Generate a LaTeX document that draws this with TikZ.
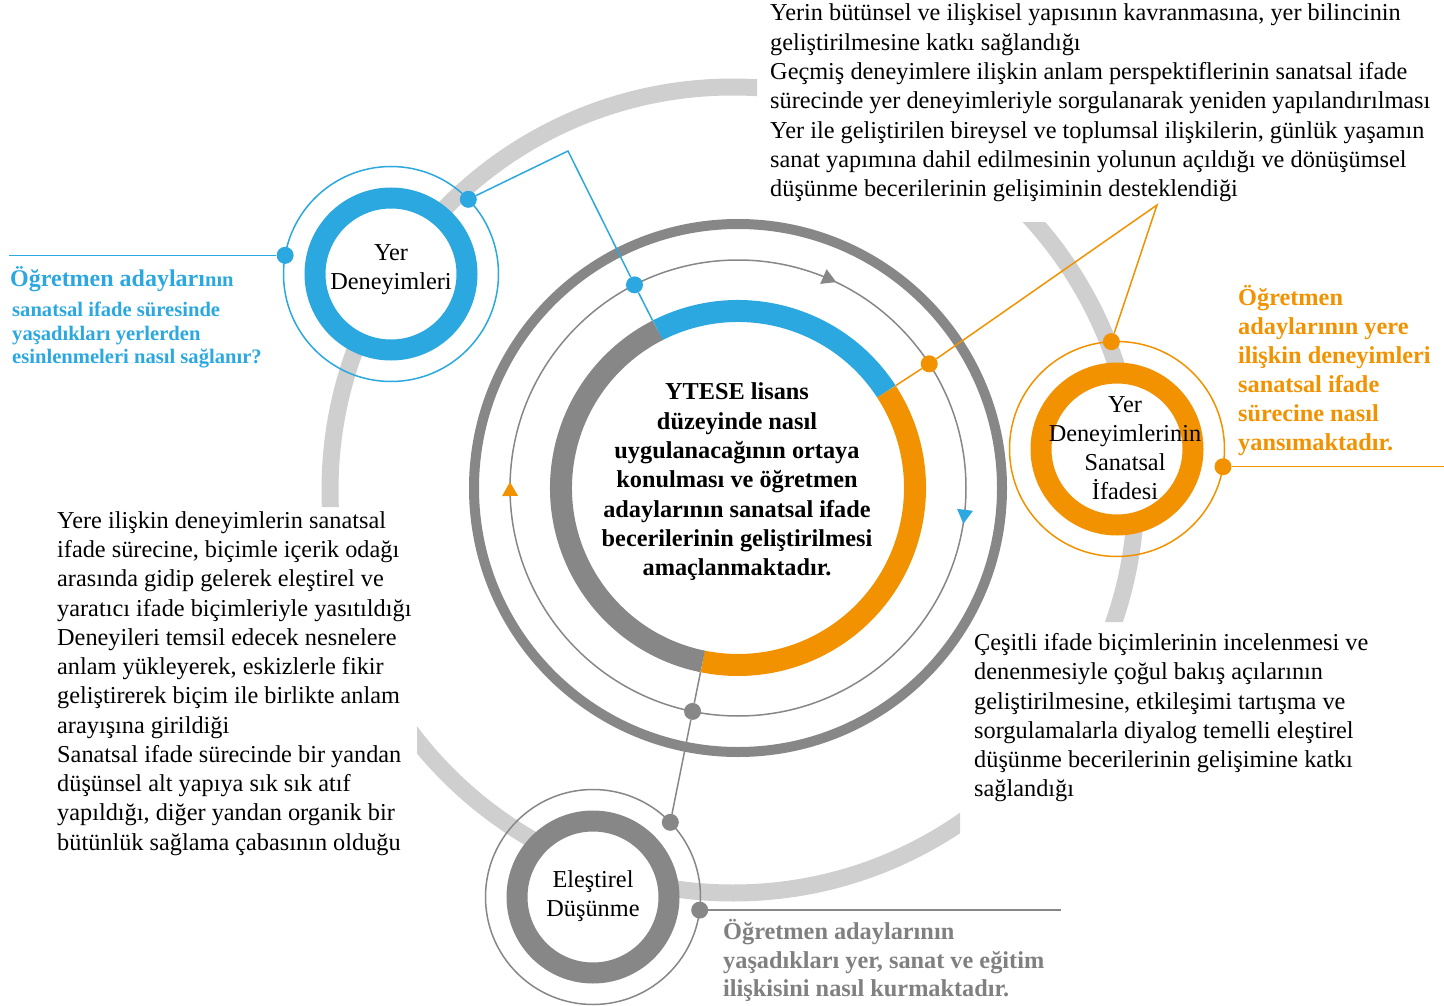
\documentclass[tikz,border=0pt]{standalone}
\usepackage{fontspec}
\setmainfont{Liberation Serif}
\usepackage{tikz}
\definecolor{placeBlue}{RGB}{44,168,224}
\definecolor{placeOrange}{RGB}{242,146,0}
\definecolor{ringGray}{RGB}{135,135,135}
\definecolor{arcGray}{RGB}{207,207,207}
\definecolor{noteGray}{RGB}{128,128,128}
\tikzstyle{plainText} = [font=\fontsize{24.3}{29.3}\selectfont, inner sep=0, anchor=base west]
\tikzstyle{boldText} = [plainText, font=\bfseries\fontsize{24.3}{29.3}\selectfont]
\tikzstyle{circleText} = [plainText, anchor=base]
\tikzstyle{dotStyle} = [circle, inner sep=0, minimum size=17pt]
\tikzstyle{linkLine} = [line width=1.5pt]
\newcommand{\topicCircle}[4]{
  \coordinate (#1) at (#2,#3);
  \draw [#4, line width=1.5pt] (#1) circle [radius=107.5pt];
  \filldraw [#4, fill=white, line width=21pt] (#1) circle [radius=76pt];
}
\newcommand{\hubSegment}[3]{\draw [#3, line width=22pt] ([shift={(#1:177pt)}]hub) arc [start angle=#1, end angle=#2, radius=177pt];}
\newcommand{\ringArrow}[2]{\fill [#2, shift={(hub)}, rotate=#1] (228pt,-8pt) -- (236pt,6pt) -- (220pt,6pt) -- cycle;}
\newcommand{\textLines}[6]{
  \foreach \lineText [count=\i] in {#6} {
    \node [#5] (#1\i) at (#2, #3 + #4*\i - #4) {\lineText};
  }
}

\begin{document}
\begin{tikzpicture}[x=1pt, y=-1pt]
  \useasboundingbox (0,0) rectangle (1444,1006);

  \begin{scope}[even odd rule]
    \clip (0,0) rectangle (1444,1006) (757,0) rectangle (1444,222)
      (0,507) rectangle (417,1006) (960,622) rectangle (1444,1006);
    \draw [arcGray, line width=17pt] (733,490) circle [radius=403pt];
  \end{scope}

  \coordinate (hub) at (738,488);
  \draw [ringGray, line width=10pt] (hub) circle [radius=264pt];
  \draw [ringGray, line width=1.5pt] (hub) circle [radius=228pt];
  \hubSegment{117}{33}{placeBlue}
  \hubSegment{33}{-101.5}{placeOrange}
  \hubSegment{-101.5}{-243}{ringGray}
  \ringArrow{66.5}{ringGray}
  \ringArrow{-7}{placeBlue}
  \ringArrow{180.5}{placeOrange}

  \topicCircle{yer}{391}{274}{placeBlue}
  \topicCircle{ifade}{1117}{449}{placeOrange}
  \topicCircle{elestirel}{593}{897}{ringGray}

  \node [dotStyle, fill=placeBlue] (blueHubDot) at ([shift={(117:228pt)}]hub) {};
  \node [dotStyle, fill=placeBlue] (yerDotA) at ([shift={(44:107.5pt)}]yer) {};
  \node [dotStyle, fill=placeBlue] (yerDotB) at ([shift={(170:107.5pt)}]yer) {};
  \node [dotStyle, fill=placeOrange] (orangeHubDot) at ([shift={(33:228pt)}]hub) {};
  \node [dotStyle, fill=placeOrange] (ifadeDotA) at ([shift={(93:107.5pt)}]ifade) {};
  \node [dotStyle, fill=placeOrange] (ifadeDotB) at ([shift={(-9.5:107.5pt)}]ifade) {};
  \node [dotStyle, fill=ringGray] (grayHubDot) at ([shift={(-101.5:228pt)}]hub) {};
  \node [dotStyle, fill=ringGray] (elestirelDotA) at ([shift={(44:107.5pt)}]elestirel) {};
  \node [dotStyle, fill=ringGray] (elestirelDotB) at ([shift={(-7:107.5pt)}]elestirel) {};

  \coordinate (blueRing) at ([shift={(117:188pt)}]hub);
  \coordinate (orangeRing) at ([shift={(33:188pt)}]hub);
  \coordinate (grayRing) at ([shift={(-101.5:188pt)}]hub);
  \coordinate (blueKink) at (568,151);
  \coordinate (orangeKink) at (1157,205);
  \coordinate (blueEnd) at (9,255);
  \coordinate (orangeEnd) at (1444,467);
  \coordinate (grayEnd) at (1061,909);

  \draw [placeBlue, linkLine] (blueRing) -- (blueHubDot) -- (blueKink) -- (yerDotA);
  \draw [placeBlue, linkLine] (yerDotB) -- (blueEnd |- yerDotB);
  \draw [placeOrange, linkLine] (orangeRing) -- (orangeHubDot) -- (orangeKink) -- (ifadeDotA);
  \draw [placeOrange, linkLine] (ifadeDotB) -- (orangeEnd |- ifadeDotB);
  \draw [ringGray, linkLine] (grayRing) -- (grayHubDot) -- (elestirelDotA);
  \draw [ringGray, linkLine] (elestirelDotB) -- (grayEnd |- elestirelDotB);

  \textLines{hubText}{737}{399.8}{29.3}{boldText, anchor=base}{{YTESE lisans},{düzeyinde nasıl},{uygulanacağının ortaya},{konulması ve öğretmen},{adaylarının sanatsal ifade},{becerilerinin geliştirilmesi},{amaçlanmaktadır.}}
  \textLines{yerText}{391}{260}{29.3}{circleText}{{Yer},{Deneyimleri}}
  \textLines{ifadeText}{1125}{412.3}{29.1}{circleText}{{Yer},{Deneyimlerinin},{Sanatsal},{İfadesi}}
  \textLines{elestirelText}{593}{887.3}{29.4}{circleText}{{Eleştirel},{Düşünme}}

  \textLines{topNote}{770}{20.7}{29.35}{plainText}{{Yerin bütünsel ve ilişkisel yapısının kavranmasına, yer bilincinin},{geliştirilmesine katkı sağlandığı},{Geçmiş deneyimlere ilişkin anlam perspektiflerinin sanatsal ifade},{sürecinde yer deneyimleriyle sorgulanarak yeniden yapılandırılması},{Yer ile geliştirilen bireysel ve toplumsal ilişkilerin, günlük yaşamın},{sanat yapımına dahil edilmesinin yolunun açıldığı ve dönüşümsel},{düşünme becerilerinin gelişiminin desteklendiği}}
  \textLines{leftNote}{57}{528.3}{29.25}{plainText}{{Yere ilişkin deneyimlerin sanatsal},{ifade sürecine, biçimle içerik odağı},{arasında gidip gelerek eleştirel ve},{yaratıcı ifade biçimleriyle yasıtıldığı},{Deneyileri temsil edecek nesnelere},{anlam yükleyerek, eskizlerle fikir},{geliştirerek biçim ile birlikte anlam},{arayışına girildiği},{Sanatsal ifade sürecinde bir yandan},{düşünsel alt yapıya sık sık atıf},{yapıldığı, diğer yandan organik bir},{bütünlük sağlama çabasının olduğu}}
  \textLines{rightNote}{974}{650.7}{29.2}{plainText}{{Çeşitli ifade biçimlerinin incelenmesi ve},{denenmesiyle çoğul bakış açılarının},{geliştirilmesine, etkileşimi tartışma ve},{sorgulamalarla diyalog temelli eleştirel},{düşünme becerilerinin gelişimine katkı},{sağlandığı}}

  \node [boldText, placeBlue] (blueHead) at (10,286) {{\fontsize{24}{24}\selectfont Öğretmen adayları}{\fontsize{20.6}{24}\selectfont nın}};
  \textLines{blueNote}{12}{316.7}{23.3}{boldText, placeBlue, font=\bfseries\fontsize{20.6}{23.3}\selectfont}{{sanatsal ifade süresinde},{yaşadıkları yerlerden},{esinlenmeleri nasıl sağlanır?}}
  \textLines{orangeNote}{1238}{305}{29.15}{boldText, placeOrange}{{Öğretmen},{adaylarının yere},{ilişkin deneyimleri},{sanatsal ifade},{sürecine nasıl},{yansımaktadır.}}
  \textLines{grayNote}{723}{939.3}{28.7}{boldText, noteGray}{{Öğretmen adaylarının},{yaşadıkları yer, sanat ve eğitim},{ilişkisini nasıl kurmaktadır.}}
\end{tikzpicture}
\end{document}
